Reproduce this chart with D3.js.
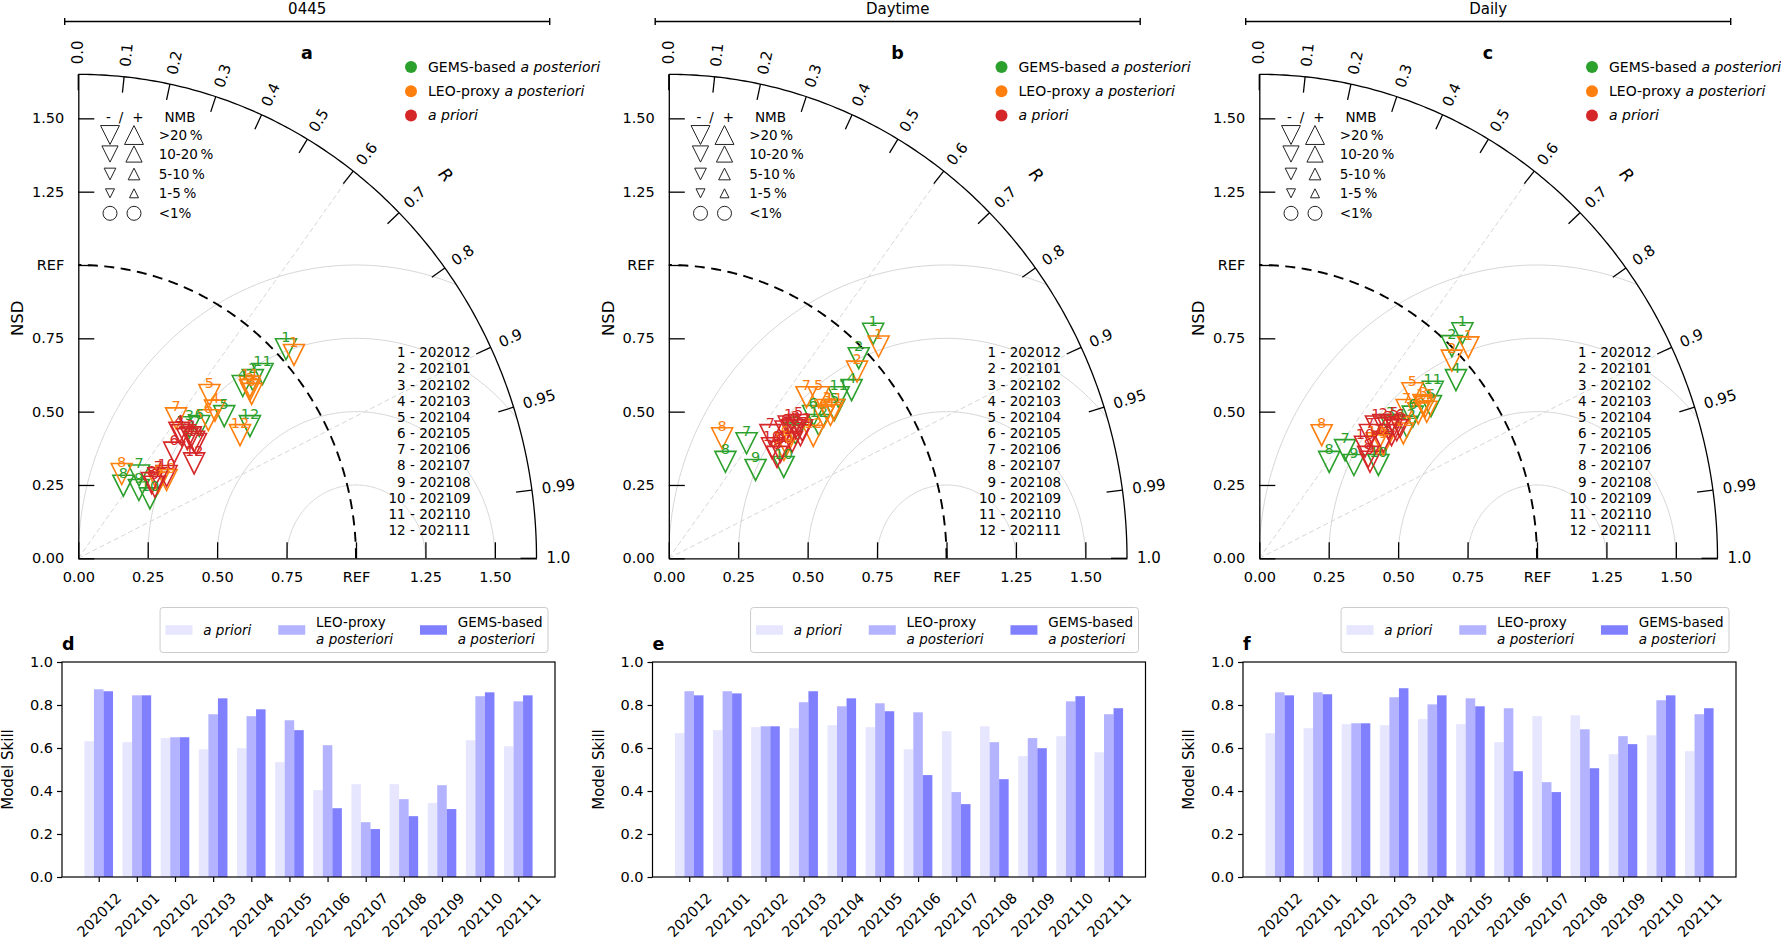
<!DOCTYPE html>
<html>
<head>
<meta charset="utf-8">
<script src="https://cdn.jsdelivr.net/npm/d3@7"></script>
<style>
  body { margin: 0; background: #fff; }
  svg { font-family: "DejaVu Sans", sans-serif; }
</style>
</head>
<body>
<svg id="chart" width="1781" height="939"></svg>
<script>
// ---- data ----
const months = ["202012", "202101", "202102", "202103", "202104", "202105",
                "202106", "202107", "202108", "202109", "202110", "202111"];
const timeWindows = ["0445", "Daytime", "Daily"];
const taylorTags = ["a", "b", "c"];
const barTags = ["d", "e", "f"];
const seriesColors = ["#2ca02c", "#ff7f0e", "#d62728"]; // GEMS, LEO, a priori

// Taylor diagrams: normalised standard deviation (NSD) and correlation (R) per month
const nsdGems0445  = [1.033, 0.874, 0.600, 0.834, 0.715, 0.627, 0.357, 0.296, 0.319, 0.329, 0.914, 0.765];
const rGems0445    = [0.724, 0.719, 0.667, 0.710, 0.735, 0.695, 0.613, 0.548, 0.684, 0.784, 0.726, 0.808];
const nsdLeo0445   = [1.041, 0.843, 0.839, 0.704, 0.730, 0.664, 0.593, 0.327, 0.387, 0.415, 0.851, 0.718];
const rLeo0445     = [0.746, 0.733, 0.744, 0.699, 0.647, 0.705, 0.594, 0.478, 0.744, 0.766, 0.726, 0.811];
const nsdPrior0445 = [0.561, 0.565, 0.578, 0.562, 0.576, 0.499, 0.397, 0.368, 0.368, 0.424, 0.576, 0.528];
const rPrior0445   = [0.663, 0.695, 0.701, 0.648, 0.724, 0.692, 0.726, 0.718, 0.749, 0.750, 0.736, 0.790];

const nsdGemsDay   = [1.062, 0.966, 0.624, 0.873, 0.782, 0.711, 0.482, 0.387, 0.434, 0.518, 0.822, 0.706];
const rGemsDay     = [0.693, 0.708, 0.731, 0.754, 0.763, 0.731, 0.581, 0.527, 0.720, 0.799, 0.744, 0.765];
const nsdLeoDay    = [1.045, 0.930, 0.762, 0.760, 0.770, 0.738, 0.740, 0.452, 0.575, 0.555, 0.780, 0.667];
const rLeoDay      = [0.723, 0.729, 0.748, 0.766, 0.701, 0.756, 0.670, 0.425, 0.731, 0.747, 0.762, 0.780];
const nsdPriorDay  = [0.623, 0.636, 0.633, 0.623, 0.652, 0.603, 0.557, 0.521, 0.542, 0.528, 0.649, 0.596];
const rPriorDay    = [0.693, 0.717, 0.749, 0.713, 0.717, 0.697, 0.657, 0.748, 0.742, 0.704, 0.740, 0.745];

const nsdGemsDaily  = [1.060, 1.002, 0.655, 0.933, 0.807, 0.734, 0.481, 0.414, 0.466, 0.534, 0.844, 0.695];
const rGemsDaily    = [0.690, 0.692, 0.720, 0.759, 0.766, 0.753, 0.642, 0.608, 0.731, 0.803, 0.740, 0.764];
const nsdLeoDaily   = [1.041, 0.967, 0.789, 0.783, 0.788, 0.756, 0.733, 0.476, 0.590, 0.577, 0.790, 0.671];
const rLeoDaily     = [0.723, 0.717, 0.749, 0.770, 0.700, 0.757, 0.724, 0.472, 0.757, 0.733, 0.756, 0.773];
const nsdPriorDaily = [0.615, 0.637, 0.642, 0.660, 0.665, 0.677, 0.579, 0.523, 0.517, 0.538, 0.635, 0.598];
const rPriorDaily   = [0.683, 0.701, 0.724, 0.750, 0.730, 0.749, 0.688, 0.750, 0.771, 0.707, 0.750, 0.747];

// NMB class of every point: all months are negative bias beyond 20 %
const nmbSign = "-";
const nmbClass = ">20 %";

// Model skill bars
const skillPrior0445  = [0.632, 0.627, 0.646, 0.594, 0.599, 0.534, 0.404, 0.432, 0.432, 0.344, 0.636, 0.608];
const skillLeo0445    = [0.873, 0.845, 0.650, 0.757, 0.748, 0.729, 0.613, 0.255, 0.362, 0.427, 0.841, 0.817];
const skillGems0445   = [0.864, 0.845, 0.650, 0.831, 0.780, 0.683, 0.320, 0.223, 0.283, 0.316, 0.859, 0.845];
const skillPriorDay   = [0.669, 0.683, 0.697, 0.692, 0.706, 0.697, 0.594, 0.678, 0.701, 0.562, 0.655, 0.580];
const skillLeoDay     = [0.864, 0.864, 0.701, 0.813, 0.794, 0.808, 0.766, 0.395, 0.627, 0.646, 0.817, 0.757];
const skillGemsDay    = [0.845, 0.854, 0.701, 0.864, 0.831, 0.771, 0.474, 0.339, 0.455, 0.599, 0.841, 0.785];
const skillPriorDaily = [0.669, 0.692, 0.711, 0.706, 0.734, 0.711, 0.627, 0.748, 0.752, 0.571, 0.659, 0.585];
const skillLeoDaily   = [0.859, 0.859, 0.715, 0.836, 0.803, 0.831, 0.785, 0.441, 0.687, 0.655, 0.822, 0.757];
const skillGemsDaily  = [0.845, 0.850, 0.715, 0.878, 0.845, 0.794, 0.492, 0.395, 0.506, 0.618, 0.845, 0.785];

// ticks
const nsdTicks = [0, 0.25, 0.5, 0.75, 1, 1.25, 1.5];
const nsdTickLabels = ["0.00", "0.25", "0.50", "0.75", "REF", "1.25", "1.50"];
const rTicks = [0, 0.1, 0.2, 0.3, 0.4, 0.5, 0.6, 0.7, 0.8, 0.9, 0.95, 0.99, 1.0];
const rTickLabels = ["0.0", "0.1", "0.2", "0.3", "0.4", "0.5", "0.6", "0.7", "0.8", "0.9", "0.95", "0.99", "1.0"];
const rmsdRings = [0.25, 0.5, 0.75, 1.0];
const rGuides = [0.6, 0.9];
const skillTicks = [0, 0.2, 0.4, 0.6, 0.8, 1.0];
const nmbClasses = [">20 %", "10-20 %", "5-10 %", "1-5 %", "<1%"];

// ---- layout / style ----
const svg = d3.select("#chart");
const PANEL_DX = 590.5;
const RMAX = 1.65;
const SX = 277.7, SY = 293.3;          // px per NSD unit (x and y differ as in the original)
const nmbSize = {">20 %": 10.5, "10-20 %": 9, "5-10 %": 6.5, "1-5 %": 5, "<1%": 7};
const barColors = ["#e6e6ff", "#b3b3ff", "#8080ff"];
const BAR_W = 0.25;
const line = d3.line();

function richText(sel, parts) {
  parts.forEach(p => sel.append("tspan")
    .attr("font-style", p.it ? "italic" : null)
    .text(p.t));
}

function triangle(cx, cy, s, down) {
  const p = d3.path();
  if (down) {
    p.moveTo(cx - s, cy - s); p.lineTo(cx + s, cy - s); p.lineTo(cx, cy + s);
  } else {
    p.moveTo(cx - s, cy + s); p.lineTo(cx + s, cy + s); p.lineTo(cx, cy - s);
  }
  p.closePath();
  return p.toString();
}

// header bracket over each column
function drawHeader(k) {
  const ox = 78.3 + k * PANEL_DX;
  const x0 = ox - 13.6, x1 = ox + 471.4, yl = 21.5;
  svg.append("path")
    .attr("d", `M${x0},${yl - 3.5}V${yl + 3.5}M${x0},${yl}H${x1}M${x1},${yl - 3.5}V${yl + 3.5}`)
    .attr("fill", "none").attr("stroke", "#000").attr("stroke-width", 1.4);
  svg.append("text").attr("x", (x0 + x1) / 2).attr("y", 14)
    .attr("text-anchor", "middle").attr("font-size", 15).text(timeWindows[k]);
}

function drawTaylor(k, series) {
  const ox = 78.3 + k * PANEL_DX, oy = 558.3;
  const x = d3.scaleLinear().domain([0, RMAX]).range([ox, ox + SX * RMAX]);
  const y = d3.scaleLinear().domain([0, RMAX]).range([oy, oy - SY * RMAX]);
  const polar = (r, t) => [x(r * Math.cos(t)), y(r * Math.sin(t))];
  const quarter = d3.range(0, 90.25, 0.5).map(d => d * Math.PI / 180);
  const g = svg.append("g");

  // clip to the quarter disc
  const clipId = "taylor-clip-" + k;
  g.append("clipPath").attr("id", clipId).append("path")
    .attr("d", line([[x(0), y(0)], ...quarter.map(t => polar(RMAX, t))]) + "Z");

  // centred RMSD rings around REF
  const grid = g.append("g").attr("clip-path", `url(#${clipId})`);
  rmsdRings.forEach(rr => {
    const pts = d3.range(0, 180.5, 1).map(a => {
      const t = a * Math.PI / 180;
      return [x(1 + rr * Math.cos(t)), y(rr * Math.sin(t))];
    });
    grid.append("path").attr("d", line(pts))
      .attr("fill", "none").attr("stroke", "#d6d6d6").attr("stroke-width", 1);
  });

  // correlation guide lines
  rGuides.forEach(r => {
    const t = Math.acos(r);
    g.append("path").attr("d", line([polar(0, t), polar(RMAX, t)]))
      .attr("stroke", "#d6d6d6").attr("stroke-width", 1).attr("stroke-dasharray", "5,3");
  });

  // REF arc
  g.append("path").attr("d", line(quarter.map(t => polar(1, t))))
    .attr("fill", "none").attr("stroke", "#000").attr("stroke-width", 1.9)
    .attr("stroke-dasharray", "10,6.5");

  // outer correlation axis
  g.append("path").attr("d", line(quarter.map(t => polar(RMAX, t))))
    .attr("fill", "none").attr("stroke", "#000").attr("stroke-width", 1.3);

  rTicks.forEach((r, i) => {
    const t = Math.acos(r);
    const p = polar(RMAX, t);
    let nx = Math.cos(t) / SX, ny = -Math.sin(t) / SY;
    const n = Math.hypot(nx, ny); nx /= n; ny /= n;
    g.append("line")
      .attr("x1", p[0]).attr("y1", p[1])
      .attr("x2", p[0] - 16 * nx).attr("y2", p[1] - 16 * ny)
      .attr("stroke", "#000").attr("stroke-width", 1.3);
    const ang = Math.atan2(ny, nx) * 180 / Math.PI;
    g.append("text")
      .attr("transform", `translate(${p[0] + 10 * nx},${p[1] + 10 * ny}) rotate(${ang})`)
      .attr("dominant-baseline", "central").attr("font-size", 15)
      .text(rTickLabels[i]);
  });

  // "R" axis label along the arc
  {
    const t = Math.PI / 4;
    const p = polar(RMAX, t);
    let nx = Math.cos(t) / SX, ny = -Math.sin(t) / SY;
    const n = Math.hypot(nx, ny); nx /= n; ny /= n;
    const ang = Math.atan2(ny, nx) * 180 / Math.PI + 90;
    g.append("text")
      .attr("transform", `translate(${p[0] + 60 * nx},${p[1] + 60 * ny}) rotate(${ang})`)
      .attr("text-anchor", "middle").attr("dominant-baseline", "central")
      .attr("font-size", 17).attr("font-style", "italic").text("R");
  }

  // NSD axes
  const yAxis = d3.axisLeft(y).tickValues(nsdTicks)
    .tickFormat((d, i) => nsdTickLabels[i])
    .tickSizeInner(-16).tickSizeOuter(0).tickPadding(14);
  const xAxis = d3.axisBottom(x).tickValues(nsdTicks)
    .tickFormat((d, i) => nsdTickLabels[i])
    .tickSizeInner(-16).tickSizeOuter(0).tickPadding(13);
  [g.append("g").attr("transform", `translate(${ox},0)`).call(yAxis),
   g.append("g").attr("transform", `translate(0,${oy})`).call(xAxis)].forEach(a => {
    a.attr("font-family", null).attr("font-size", 14.5);
    a.selectAll("path,line").attr("stroke", "#000").attr("stroke-width", 1.3);
    a.selectAll("text").attr("fill", "#000");
  });
  g.append("text")
    .attr("transform", `translate(${ox - 60.5},318.3) rotate(-90)`)
    .attr("text-anchor", "middle").attr("dominant-baseline", "central")
    .attr("font-size", 16.5).text("NSD");

  // panel letter
  g.append("text").attr("x", ox + 228.7).attr("y", 59)
    .attr("text-anchor", "middle").attr("font-size", 17.5).attr("font-weight", "bold")
    .text(taylorTags[k]);

  // series legend
  const seriesLegend = [
    [{t: "GEMS-based\u00a0"}, {t: "a posteriori", it: true}],
    [{t: "LEO-proxy\u00a0"}, {t: "a posteriori", it: true}],
    [{t: "a priori", it: true}]
  ];
  seriesLegend.forEach((parts, i) => {
    const yy = 67 + i * 24.2;
    g.append("circle").attr("cx", ox + 332.7).attr("cy", yy).attr("r", 6)
      .attr("fill", seriesColors[i]);
    richText(g.append("text").attr("x", ox + 349.7).attr("y", yy)
      .attr("dominant-baseline", "central").attr("font-size", 14), parts);
  });

  // NMB legend
  const nl = g.append("g").attr("font-size", 13.5);
  [["-", 30.2], ["/", 42.7], ["+", 59.7]].forEach(([s, dx]) =>
    nl.append("text").attr("x", ox + dx).attr("y", 116.7)
      .attr("text-anchor", "middle").attr("dominant-baseline", "central").text(s));
  nl.append("text").attr("x", ox + 101.7).attr("y", 116.7)
    .attr("text-anchor", "middle").attr("dominant-baseline", "central").text("NMB");
  const rowY = [135, 154, 174, 193.3, 213.3];
  nmbClasses.forEach((c, i) => {
    const s = nmbSize[c];
    if (c === "<1%") {
      [31.7, 55.7].forEach(dx => nl.append("circle")
        .attr("cx", ox + dx).attr("cy", rowY[i]).attr("r", s)
        .attr("fill", "none").attr("stroke", "#222").attr("stroke-width", 1));
    } else {
      nl.append("path").attr("d", triangle(ox + 31.7, rowY[i], s * 0.9, true))
        .attr("fill", "none").attr("stroke", "#222").attr("stroke-width", 1);
      nl.append("path").attr("d", triangle(ox + 55.7, rowY[i], s * 0.9, false))
        .attr("fill", "none").attr("stroke", "#222").attr("stroke-width", 1);
    }
    nl.append("text").attr("x", ox + 80.4).attr("y", rowY[i])
      .attr("dominant-baseline", "central").text(c.replace(" %", "\u2009%"));
  });

  // month key
  g.append("g").selectAll("text").data(months).join("text")
    .attr("x", ox + 392.4).attr("y", (d, i) => 352.3 + i * 16.15)
    .attr("text-anchor", "end").attr("dominant-baseline", "central")
    .attr("font-size", 13.5).text((d, i) => `${i + 1} - ${d}`);

  // markers, then their month numbers on top
  const s = nmbSize[nmbClass];
  const pts = series.map(([nsd, r], si) => nsd.map((v, i) => {
    const p = polar(v, Math.acos(r[i]));
    return {cx: p[0], cy: p[1], si, label: i + 1};
  }));
  pts.forEach(list => g.append("g").selectAll("path").data(list).join("path")
    .attr("d", d => triangle(d.cx, d.cy, s, nmbSign === "-"))
    .attr("fill", "none").attr("stroke", d => seriesColors[d.si]).attr("stroke-width", 1.6));
  pts.forEach(list => g.append("g").selectAll("text").data(list).join("text")
    .attr("x", d => d.cx).attr("y", d => d.cy - 7.5)
    .attr("text-anchor", "middle").attr("font-size", 14.5)
    .attr("fill", d => seriesColors[d.si]).text(d => d.label));
}

function drawBars(k, prior, leo, gems) {
  const left = 62 + k * PANEL_DX, right = 555 + k * PANEL_DX, top = 662, bottom = 877;
  const x = d3.scaleLinear().domain([-0.9625, 11.9625]).range([left, right]);
  const y = d3.scaleLinear().domain([0, 1]).range([bottom, top]);
  const bw = x(BAR_W) - x(0);
  const g = svg.append("g");

  [prior, leo, gems].forEach((vals, s) => {
    g.append("g").selectAll("rect").data(vals).join("rect")
      .attr("x", (d, i) => x(i + (s - 1) * BAR_W) - bw / 2)
      .attr("y", d => y(d))
      .attr("width", bw)
      .attr("height", d => y(0) - y(d))
      .attr("fill", barColors[s]);
  });

  const ya = g.append("g").attr("transform", `translate(${left},0)`)
    .call(d3.axisLeft(y).tickValues(skillTicks).tickFormat(d3.format(".1f"))
      .tickSize(5).tickPadding(4));
  const xa = g.append("g").attr("transform", `translate(0,${bottom})`)
    .call(d3.axisBottom(x).tickValues(d3.range(months.length))
      .tickFormat(i => months[i]).tickSize(5));
  [ya, xa].forEach(a => {
    a.attr("font-family", null).attr("font-size", 14.5);
    a.select(".domain").remove();
    a.selectAll("line").attr("stroke", "#000").attr("stroke-width", 1.2);
    a.selectAll("text").attr("fill", "#000");
  });
  xa.selectAll("text")
    .attr("y", null).attr("dy", null)
    .attr("text-anchor", "middle").attr("dominant-baseline", "central")
    .attr("transform", "translate(0,38) rotate(-45)");

  g.append("rect").attr("x", left).attr("y", top)
    .attr("width", right - left).attr("height", bottom - top)
    .attr("fill", "none").attr("stroke", "#000").attr("stroke-width", 1.2);

  g.append("text")
    .attr("transform", `translate(${left - 54},${(top + bottom) / 2}) rotate(-90)`)
    .attr("text-anchor", "middle").attr("dominant-baseline", "central")
    .attr("font-size", 15).text("Model Skill");
  g.append("text").attr("x", left).attr("y", 650)
    .attr("font-size", 17.5).attr("font-weight", "bold").text(barTags[k]);

  // legend above the plot, right aligned
  const entries = [
    [[{t: "a priori", it: true}]],
    [[{t: "LEO-proxy"}], [{t: "a posteriori", it: true}]],
    [[{t: "GEMS-based"}], [{t: "a posteriori", it: true}]]
  ];
  const lg = g.append("g");
  const box = lg.append("rect");
  let cur = 5.4;
  entries.forEach((lines, s) => {
    lg.append("rect").attr("x", cur).attr("y", -4.75).attr("width", 27).attr("height", 9.5)
      .attr("fill", barColors[s]);
    const tx = cur + 27 + 10.8;
    let w = 0;
    lines.forEach((parts, li) => {
      const yy = lines.length === 1 ? 0 : (li === 0 ? -8.5 : 8.5);
      const t = lg.append("text").attr("x", tx).attr("y", yy)
        .attr("dominant-baseline", "central").attr("font-size", 13.5);
      richText(t, parts);
      w = Math.max(w, t.node().getComputedTextLength());
    });
    cur = tx + w + 27;
  });
  const boxW = cur - 27 + 5.4;
  box.attr("x", 0).attr("y", -22.5).attr("width", boxW).attr("height", 45).attr("rx", 3)
    .attr("fill", "#fff").attr("stroke", "#cccccc").attr("stroke-width", 1);
  lg.attr("transform", `translate(${right - 7 - boxW},630)`);
}

// ---- draw ----
const taylorSeries = [
  [[nsdGems0445, rGems0445], [nsdLeo0445, rLeo0445], [nsdPrior0445, rPrior0445]],
  [[nsdGemsDay, rGemsDay], [nsdLeoDay, rLeoDay], [nsdPriorDay, rPriorDay]],
  [[nsdGemsDaily, rGemsDaily], [nsdLeoDaily, rLeoDaily], [nsdPriorDaily, rPriorDaily]]
];
const barSeries = [
  [skillPrior0445, skillLeo0445, skillGems0445],
  [skillPriorDay, skillLeoDay, skillGemsDay],
  [skillPriorDaily, skillLeoDaily, skillGemsDaily]
];

timeWindows.forEach((w, k) => {
  drawHeader(k);
  drawTaylor(k, taylorSeries[k]);
  drawBars(k, ...barSeries[k]);
});
</script>
</body>
</html>
